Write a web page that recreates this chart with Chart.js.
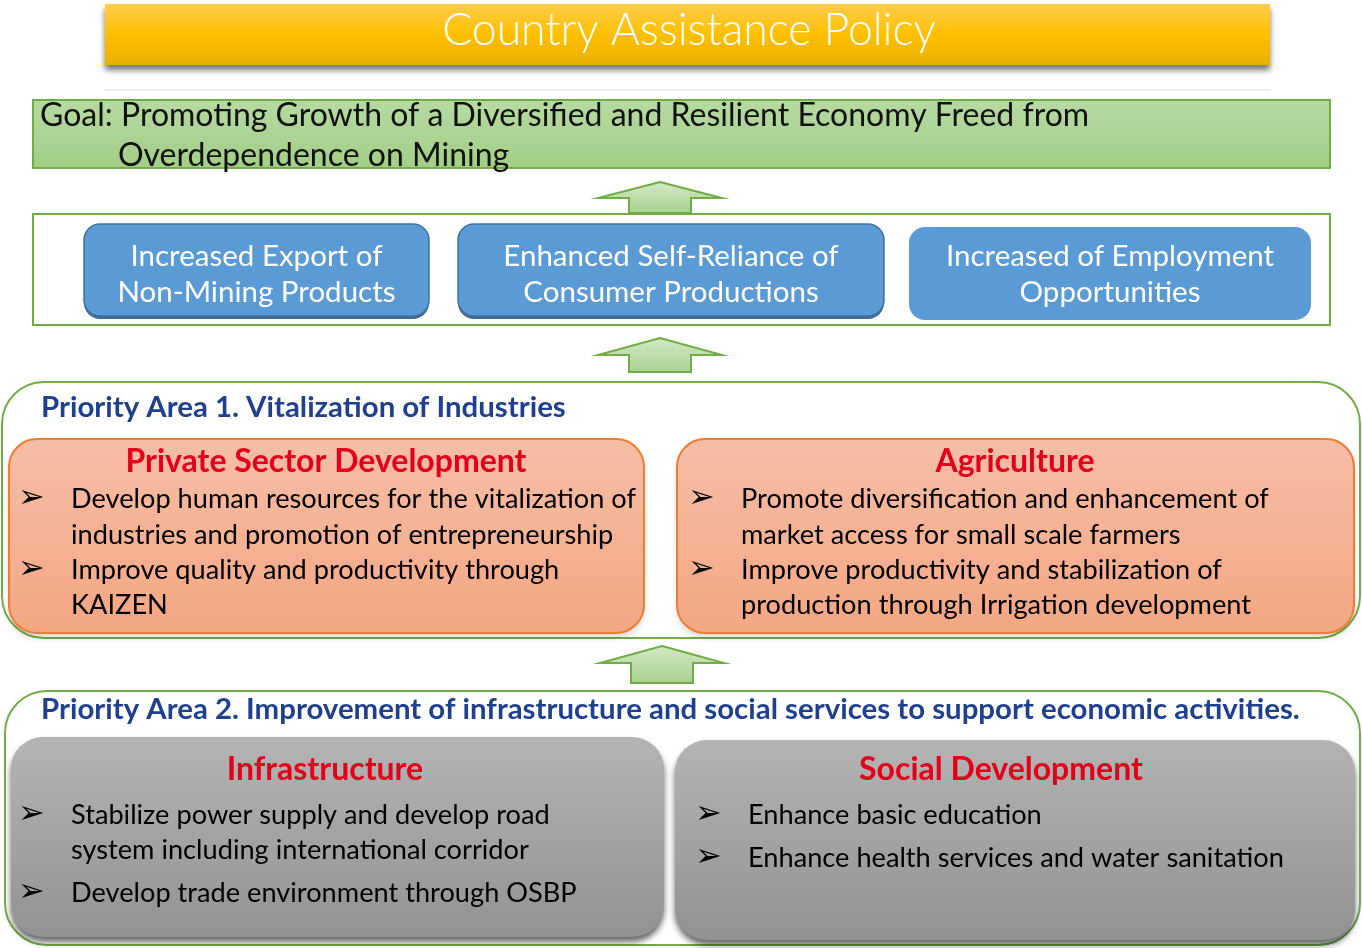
<!DOCTYPE html>
<html>
<head>
<meta charset="utf-8">
<script src="https://cdn.jsdelivr.net/npm/chart.js@4/dist/chart.umd.min.js"></script>
<style>
  html, body { margin: 0; padding: 0; background: #fff; }
  #diagram { display: block; }
</style>
</head>
<body>
<canvas id="diagram" width="1362" height="948"></canvas>
<script>
// texts of the diagram
const policyTitle = 'Country Assistance Policy';
const goalLines = ['Goal: Promoting Growth of a Diversified and Resilient Economy Freed from', 'Overdependence on Mining'];
const outcomes = [
    ['Increased Export of', 'Non-Mining Products'],
    ['Enhanced Self-Reliance of', 'Consumer Productions'],
    ['Increased of Employment', 'Opportunities']
];
const priorityTitles = [
    'Priority Area 1. Vitalization of Industries',
    'Priority Area 2. Improvement of infrastructure and social services to support economic activities.'
];
const sectorTitles = ['Private Sector Development', 'Agriculture', 'Infrastructure', 'Social Development'];
const sectorBullets = [
    [['Develop human resources for the vitalization of', 'industries and promotion of entrepreneurship'], ['Improve quality and productivity through', 'KAIZEN']],
    [['Promote diversification and enhancement of', 'market access for small scale farmers'], ['Improve productivity and stabilization of', 'production through Irrigation development']],
    [['Stabilize power supply and develop road', 'system including international corridor'], ['Develop trade environment through OSBP']],
    [['Enhance basic education'], ['Enhance health services and water sanitation']]
];

const FONT = 'Lato, "Open Sans", sans-serif';

document.addEventListener('DOMContentLoaded', () => {
    const canvas = document.getElementById('diagram');

    const text = (ctx, s, x, y, size, weight, color, align) => {
        ctx.save();
        ctx.font = weight + ' ' + size + 'px ' + FONT;
        ctx.fillStyle = color;
        ctx.textBaseline = 'middle';
        ctx.textAlign = align || 'left';
        ctx.fillText(s, x, y);
        ctx.restore();
    };

    const box = (ctx, x, y, w, h, r, fill, stroke, lw, shadow) => {
        ctx.save();
        if (shadow) {
            ctx.shadowColor = shadow;
            ctx.shadowOffsetY = 5;
            ctx.shadowBlur = 6;
        }
        ctx.beginPath();
        ctx.roundRect(x, y, w, h, r);
        ctx.fillStyle = fill;
        ctx.fill();
        ctx.restore();
        if (stroke) {
            ctx.save();
            ctx.beginPath();
            ctx.roundRect(x, y, w, h, r);
            ctx.strokeStyle = stroke;
            ctx.lineWidth = lw || 2;
            ctx.stroke();
            ctx.restore();
        }
    };

    const grad = (ctx, y0, y1, stops) => {
        const g = ctx.createLinearGradient(0, y0, 0, y1);
        stops.forEach((c, i) => g.addColorStop(i / (stops.length - 1), c));
        return g;
    };

    const arrow = (ctx, cx, tip, base, bottom) => {
        ctx.save();
        ctx.beginPath();
        ctx.moveTo(cx, tip);
        ctx.lineTo(cx + 62, base);
        ctx.lineTo(cx + 31, base);
        ctx.lineTo(cx + 31, bottom);
        ctx.lineTo(cx - 31, bottom);
        ctx.lineTo(cx - 31, base);
        ctx.lineTo(cx - 62, base);
        ctx.closePath();
        ctx.fillStyle = grad(ctx, tip, bottom, ['#d3e9c6', '#a9d18e']);
        ctx.fill();
        ctx.strokeStyle = '#70ad47';
        ctx.lineWidth = 2;
        ctx.stroke();
        ctx.restore();
    };

    const bulletList = (ctx, items, bx, tx, ys) => {
        let k = 0;
        items.forEach(item => {
            item.forEach((line, j) => {
                const y = ys[k++];
                if (j === 0) {
                    ctx.save();
                    ctx.font = '32px "DejaVu Sans"';
                    ctx.fillStyle = '#000';
                    ctx.textBaseline = 'middle';
                    ctx.fillText('\u27A2', bx, y);
                    ctx.restore();
                }
                text(ctx, line, tx, y, 27.2, 400, '#000');
            });
        });
    };

    const diagramPlugin = {
        id: 'diagram',
        afterDraw(chart) {
            const ctx = chart.ctx;
            const sx = chart.scales.x, sy = chart.scales.y;
            const X = v => sx.getPixelForValue(v);
            const Y = v => sy.getPixelForValue(v);

            // title bar
            box(ctx, X(105), Y(4), 1165, 61, 0, grad(ctx, Y(4), Y(65), ['#ffcc4d', '#ffc000', '#e8b000']), null, 0, 'rgba(0,0,0,0.55)');
            text(ctx, policyTitle, X(689), Y(31), 44.5, 300, '#fff', 'center');
            ctx.fillStyle = '#ececec';
            ctx.fillRect(X(105), Y(89), 1165, 2);

            // goal
            ctx.save();
            ctx.fillStyle = grad(ctx, Y(100), Y(168), ['#b6daa2', '#a2ce86']);
            ctx.fillRect(X(33), Y(100), 1297, 68);
            ctx.strokeStyle = '#70ad47';
            ctx.lineWidth = 2;
            ctx.strokeRect(X(33), Y(100), 1297, 68);
            ctx.restore();
            text(ctx, goalLines[0], X(40), Y(116), 32, 400, '#111');
            text(ctx, goalLines[1], X(118), Y(156), 32, 400, '#111');

            arrow(ctx, X(660), Y(182), Y(198), Y(213));

            // outcomes
            ctx.save();
            ctx.fillStyle = '#fff';
            ctx.fillRect(X(33), Y(214), 1297, 111);
            ctx.strokeStyle = '#70ad47';
            ctx.lineWidth = 2;
            ctx.strokeRect(X(33), Y(214), 1297, 111);
            ctx.restore();
            const oBoxes = [[84, 224, 345, 92, '#41719c'], [458, 224, 426, 92, '#41719c'], [909, 227, 402, 93, null]];
            oBoxes.forEach((b, i) => {
                if (b[4]) box(ctx, X(b[0]), Y(b[1]) + 3, b[2], b[3], 16, '#3f6b95');
                box(ctx, X(b[0]), Y(b[1]), b[2], b[3], 16, '#5b9bd5', b[4], 1.5);
                const cx = X(b[0]) + b[2] / 2;
                text(ctx, outcomes[i][0], cx, Y(256), 29.5, 400, '#fff', 'center');
                text(ctx, outcomes[i][1], cx, Y(292), 29.5, 400, '#fff', 'center');
            });

            arrow(ctx, X(660), Y(338), Y(355), Y(372));

            // priority area 1
            box(ctx, X(2), Y(382), 1358, 256, 42, '#fff', '#70ad47', 2);
            text(ctx, priorityTitles[0], X(41), Y(408), 29.4, 700, '#1f3f8f');
            const orange = grad(ctx, Y(439), Y(633), ['#f6bea7', '#f4a682']);
            box(ctx, X(9), Y(439), 635, 194, 28, orange, '#ed7d31', 2, 'rgba(0,0,0,0.15)');
            box(ctx, X(677), Y(439), 677, 194, 28, orange, '#ed7d31', 2, 'rgba(0,0,0,0.15)');
            text(ctx, sectorTitles[0], X(326), Y(462), 32, 700, '#e2001a', 'center');
            text(ctx, sectorTitles[1], X(1015), Y(462), 32, 700, '#e2001a', 'center');
            bulletList(ctx, sectorBullets[0], X(18), X(71), [Y(499), Y(535), Y(570), Y(605)]);
            bulletList(ctx, sectorBullets[1], X(688), X(741), [Y(499), Y(535), Y(570), Y(605)]);

            arrow(ctx, X(662), Y(646), Y(663), Y(683));

            // priority area 2
            box(ctx, X(5), Y(691), 1355, 254, 42, '#fff', '#70ad47', 2);
            text(ctx, priorityTitles[1], X(41), Y(710), 29.4, 700, '#1f3f8f');
            const grey = grad(ctx, Y(737), Y(940), ['#b4b4b4', '#929292']);
            box(ctx, X(11), Y(737), 653, 200, 32, grey, null, 0, 'rgba(0,0,0,0.6)');
            box(ctx, X(675), Y(740), 680, 200, 32, grey, null, 0, 'rgba(0,0,0,0.6)');
            text(ctx, sectorTitles[2], X(325), Y(770), 32, 700, '#e2001a', 'center');
            text(ctx, sectorTitles[3], X(1001), Y(770), 32, 700, '#e2001a', 'center');
            bulletList(ctx, sectorBullets[2], X(18), X(71), [Y(815), Y(850), Y(893)]);
            bulletList(ctx, sectorBullets[3], X(695), X(748), [Y(815), Y(858)]);
        }
    };

    new Chart(canvas.getContext('2d'), {
        type: 'scatter',
        data: { datasets: [{ data: [] }] },
        options: {
            responsive: false,
            animation: false,
            devicePixelRatio: 1,
            layout: { padding: 0 },
            plugins: { legend: { display: false }, tooltip: { enabled: false } },
            scales: {
                x: { type: 'linear', min: 0, max: 1362, display: false },
                y: { type: 'linear', min: 0, max: 948, reverse: true, display: false }
            }
        },
        plugins: [diagramPlugin]
    });
});
</script>
</body>
</html>
